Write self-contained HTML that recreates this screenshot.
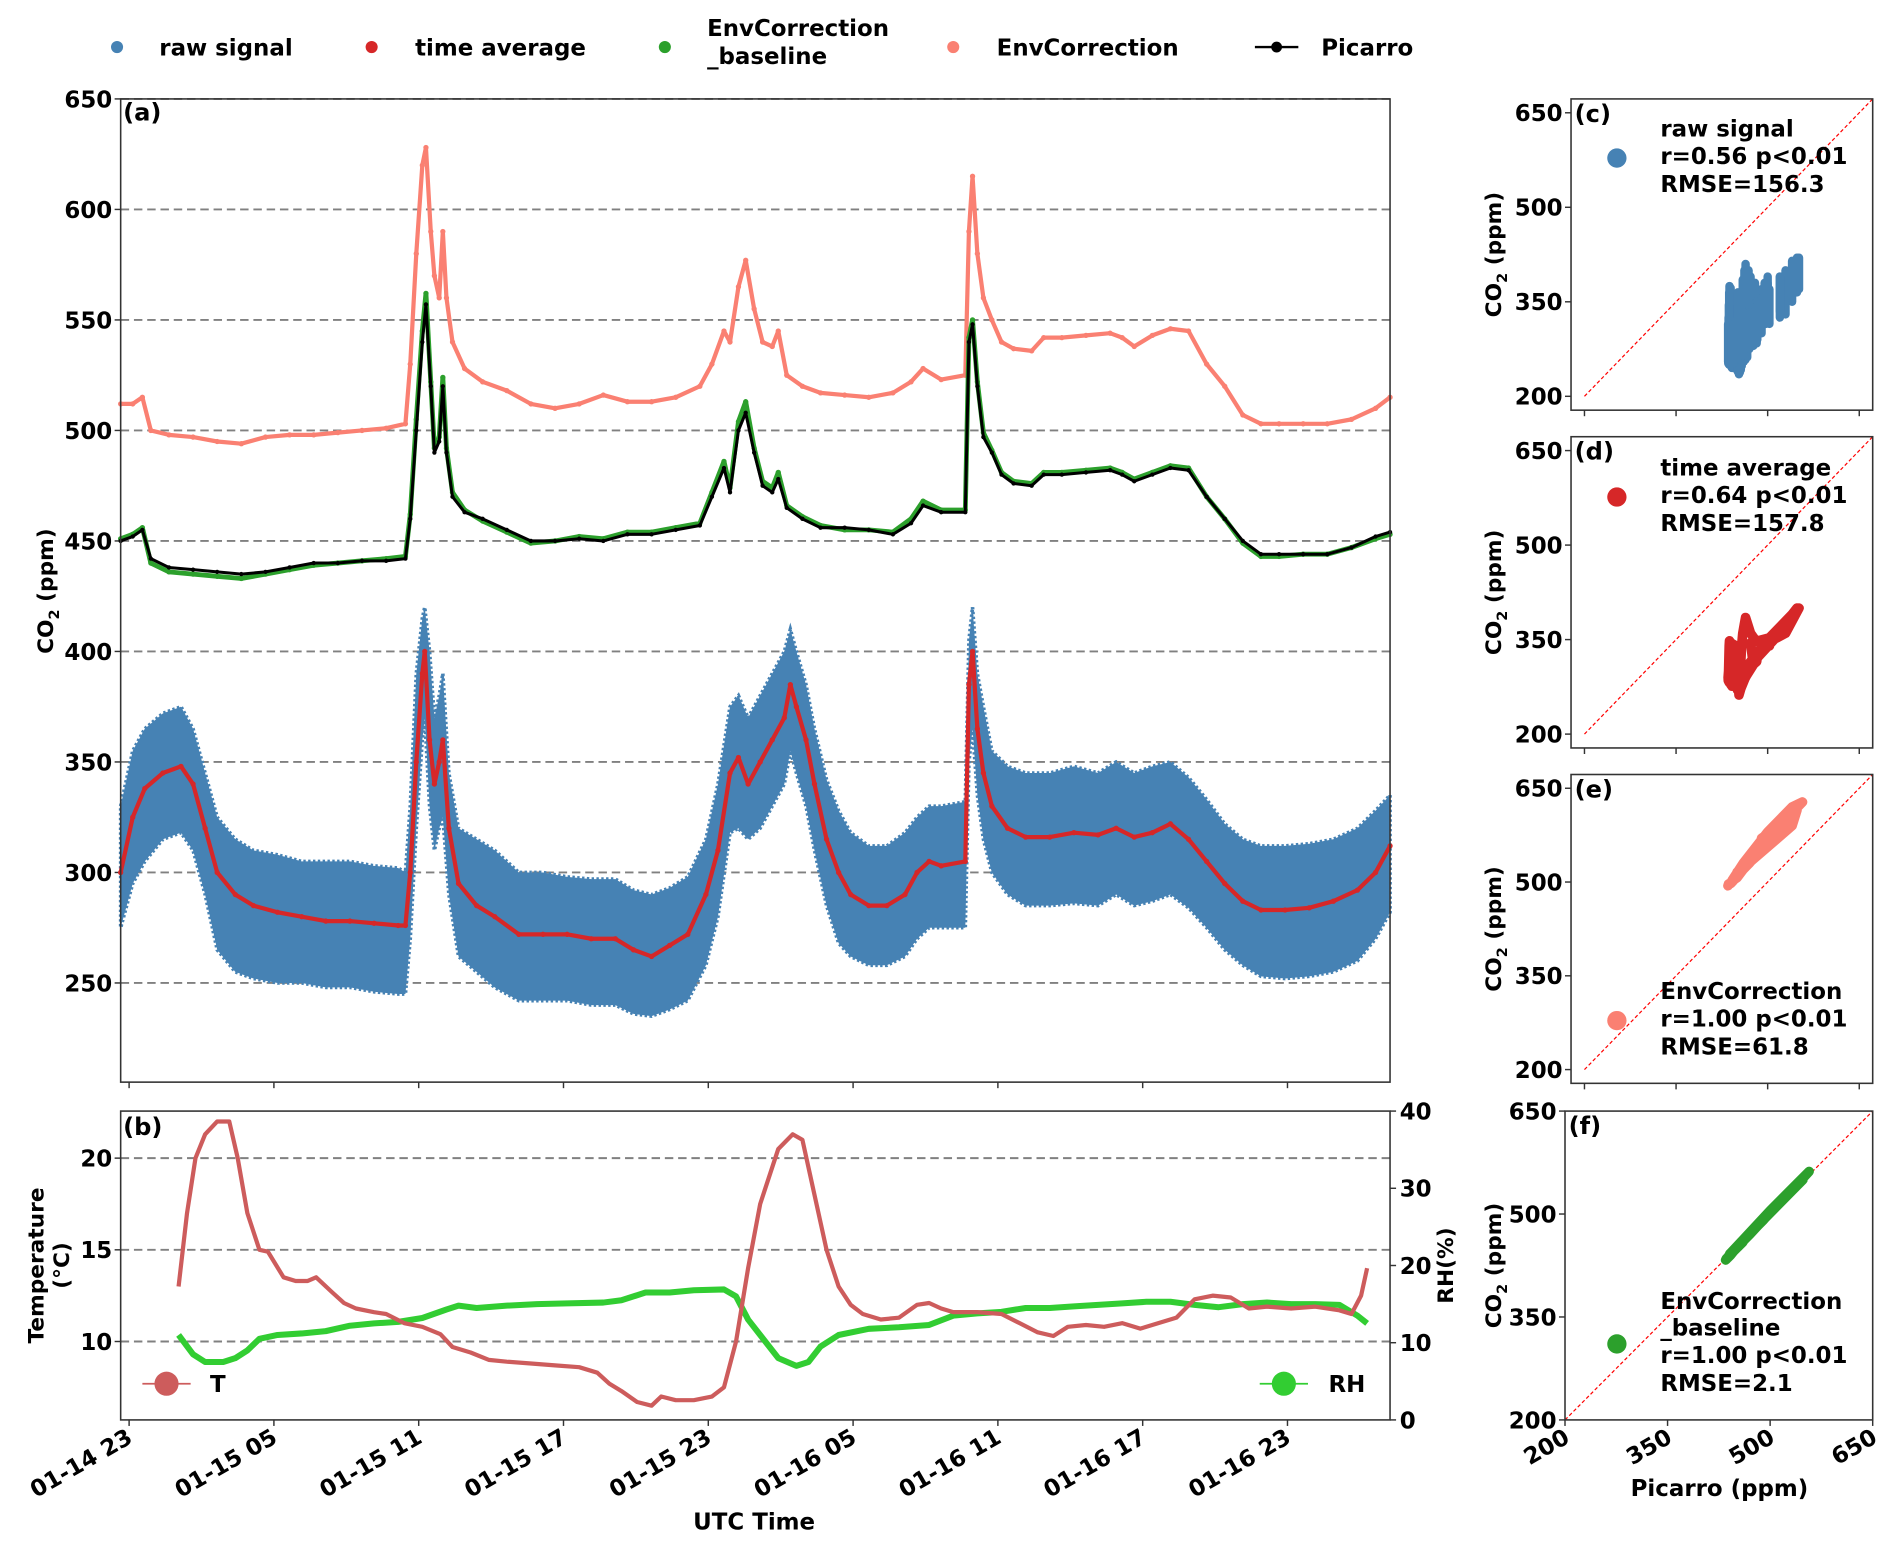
<!DOCTYPE html>
<html><head><meta charset="utf-8"><title>CO2 sensor comparison</title>
<style>
html,body{margin:0;padding:0;background:#fff;}
svg{display:block;font-family:"DejaVu Sans","Liberation Sans",sans-serif;font-weight:bold;}
</style></head>
<body>
<svg id="fig" xmlns="http://www.w3.org/2000/svg" width="1892" height="1549" viewBox="0 0 1568 1284" preserveAspectRatio="none">
<g id="legend" font-size="19">
  <g><circle cx="97" cy="39" r="5" fill="#4682b4"/><text x="132" y="46">raw signal</text></g>
  <g><circle cx="308" cy="39" r="5" fill="#d62728"/><text x="344" y="46">time average</text></g>
  <g><circle cx="551" cy="39" r="5" fill="#2ca02c"/><text x="586" y="30">EnvCorrection</text><text x="586" y="53">_baseline</text></g>
  <g><circle cx="790" cy="39" r="5" fill="#fa8072"/><text x="826" y="46">EnvCorrection</text></g>
  <g><line x1="1040" y1="39" x2="1076" y2="39" stroke="#000" stroke-width="2"/><circle cx="1058" cy="39" r="4.5" fill="#000"/><text x="1095" y="46">Picarro</text></g>
</g>
<g id="pa"></g>
<g id="pb"></g>
<g id="ps"></g>
</svg>
<script>
// ---------- time series data (hours since 01-14 23:00) ----------
const timesA = [-0.35,0.15,0.55,0.9,1.65,2.65,3.65,4.65,5.65,6.65,7.65,8.65,9.65,10.65,11.45,11.65,11.9,12.15,12.3,12.5,12.65,12.85,13,13.15,13.4,13.9,14.65,15.65,16.65,17.65,18.65,19.65,20.65,21.65,22.65,23.65,24.15,24.65,24.9,25.25,25.55,25.9,26.25,26.65,26.9,27.25,27.9,28.65,29.65,30.65,31.65,32.4,32.9,33.65,34.65,34.8,34.95,35.15,35.4,35.75,36.15,36.65,37.4,37.9,38.65,39.65,40.65,41.15,41.65,42.4,43.15,43.9,44.65,45.4,46.15,46.9,47.65,48.65,49.65,50.65,51.65,52.25];
const picarro = [450,452,455,442,438,437,436,435,436,438,440,440,441,441,442,460,500,540,557,520,490,495,520,490,470,463,460,455,450,450,451,450,453,453,455,457,470,483,472,500,508,490,475,472,478,465,460,456,456,455,453,458,466,463,463,540,548,520,497,490,480,476,475,480,480,481,482,480,477,480,483,482,470,460,450,444,444,444,444,447,452,454];
const envBaseline = [451,453,456,440,436,435,434,433,435,437,439,440,441,442,443,462,505,545,562,522,492,497,524,492,472,464,459,454,449,450,452,451,454,454,456,458,472,486,474,504,513,492,477,474,481,466,461,457,455,455,454,460,468,464,464,542,550,522,499,491,481,477,476,481,481,482,483,481,478,481,484,483,470,460,449,443,443,444,444,447,451,453];
const envCorr = [512,512,515,500,498,497,495,494,497,498,498,499,500,501,503,530,580,620,628,590,570,560,590,560,540,528,522,518,512,510,512,516,513,513,515,520,530,545,540,565,577,555,540,538,545,525,520,517,516,515,517,522,528,523,525,590,615,580,560,550,540,537,536,542,542,543,544,542,538,543,546,545,530,520,507,503,503,503,503,505,510,515];
const timesB = [-0.35,0.15,0.65,1.4,2.15,2.65,3.15,3.65,4.4,5.15,6.15,7.15,8.15,9.15,10.15,11.15,11.45,11.65,11.9,12.15,12.25,12.45,12.65,12.85,13,13.25,13.65,14.4,15.15,16.15,17.15,18.15,19.15,20.15,20.9,21.65,22.4,23.15,23.9,24.4,24.9,25.25,25.65,26.15,26.65,27.15,27.4,27.65,28.05,28.4,28.9,29.4,29.9,30.65,31.4,32.15,32.65,33.15,33.65,34.65,34.8,34.95,35.15,35.4,35.75,36.4,37.15,38.15,39.15,40.15,40.9,41.65,42.4,43.15,43.9,44.65,45.4,46.15,46.9,47.9,48.9,49.9,50.9,51.65,52.25];
const timeAvg = [300,325,338,345,348,340,320,300,290,285,282,280,278,278,277,276,276,300,350,390,400,360,340,350,360,320,295,285,280,272,272,272,270,270,265,262,267,272,290,310,345,352,340,350,360,370,385,375,360,340,315,300,290,285,285,290,300,305,303,305,385,400,365,345,330,320,316,316,318,317,320,316,318,322,315,305,295,287,283,283,284,287,292,300,312];
const rawUpper = [330,355,365,372,375,365,345,325,315,310,308,305,305,305,303,302,300,330,390,415,420,400,370,380,390,345,320,315,310,300,300,298,297,297,292,290,293,298,315,340,375,380,370,380,390,400,410,400,385,365,342,328,318,312,312,318,325,330,330,332,405,420,390,375,355,348,345,345,348,345,350,345,348,350,343,333,322,315,312,312,313,315,320,328,335];
const rawLower = [275,295,305,315,318,310,290,265,255,252,250,250,248,248,246,245,245,270,320,360,370,330,310,320,325,290,262,255,248,242,242,242,240,240,236,235,238,242,258,280,318,320,315,320,330,340,355,345,330,310,285,268,262,258,258,262,270,275,275,275,350,365,335,315,300,290,285,285,286,285,290,285,287,290,284,275,265,258,253,252,253,255,260,270,282];
const timesT = [2.05,2.4,2.75,3.15,3.65,4.15,4.5,4.9,5.4,5.75,6.4,6.9,7.4,7.75,8.4,8.9,9.4,10.15,10.65,11.4,12.15,12.9,13.4,14.15,14.9,15.65,16.65,17.65,18.65,19.4,19.9,20.4,21.05,21.65,22.05,22.65,23.4,24.15,24.65,25.15,25.65,26.15,26.9,27.5,27.9,28.4,28.9,29.4,29.9,30.4,31.15,31.9,32.65,33.15,33.65,34.15,35.15,36.15,36.9,37.65,38.3,38.9,39.65,40.4,41.15,41.9,42.65,43.4,44.15,44.9,45.65,46.4,47.15,48.15,49.15,50.15,50.65,51.05,51.3];
const tempC = [13,17,20,21.3,22,22,20,17,15,14.9,13.5,13.3,13.3,13.5,12.7,12.1,11.8,11.6,11.5,11.0,10.8,10.4,9.7,9.4,9.0,8.9,8.8,8.7,8.6,8.3,7.7,7.3,6.7,6.5,7.0,6.8,6.8,7.0,7.5,10,14,17.5,20.5,21.3,21,18,15,13,12,11.5,11.2,11.3,12,12.1,11.8,11.6,11.6,11.5,11.0,10.5,10.3,10.8,10.9,10.8,11.0,10.7,11.0,11.3,12.3,12.5,12.4,11.8,11.9,11.8,11.9,11.7,11.5,12.5,14];
const timesRH = [2.05,2.65,3.15,3.9,4.4,4.9,5.4,6.15,7.15,8.15,9.15,10.15,11.15,12.15,13.15,13.65,14.4,15.65,16.9,18.15,19.65,20.4,21.4,22.4,23.4,24.65,25.15,25.65,26.15,26.9,27.65,28.15,28.65,29.4,30.65,31.9,33.15,34.15,35.15,36.15,37.15,38.15,39.15,40.15,41.15,42.15,43.15,44.15,45.15,46.15,47.15,48.15,49.15,50.15,50.9,51.3];
const rhPct = [11,8.5,7.5,7.5,8,9,10.5,11,11.2,11.5,12.2,12.5,12.7,13.2,14.3,14.8,14.5,14.8,15.0,15.1,15.2,15.5,16.5,16.5,16.8,16.9,16,13,11,8,7,7.5,9.5,11,11.8,12,12.3,13.5,13.8,14.0,14.5,14.5,14.7,14.9,15.1,15.3,15.3,14.9,14.6,15.0,15.2,15.0,15.0,14.9,13.5,12.5];
// ---------- tick labels ----------
const xTickHours = [0,6,12,18,24,30,36,42,48];
const xTickLabels = ["01-14 23","01-15 05","01-15 11","01-15 17","01-15 23","01-16 05","01-16 11","01-16 17","01-16 23"];
const co2Ticks = [250,300,350,400,450,500,550,600,650];
const tempTicks = [10,15,20];
const rhTicks = [0,10,20,30,40];
const scatterTicks = [200,350,500,650];
const statLabels = [["raw signal","r=0.56 p<0.01","RMSE=156.3"],["time average","r=0.64 p<0.01","RMSE=157.8"],["EnvCorrection","r=1.00 p<0.01","RMSE=61.8"],["EnvCorrection","_baseline","r=1.00 p<0.01","RMSE=2.1"]];

const NS="http://www.w3.org/2000/svg";
function mk(parent,tag,attrs,text){const e=document.createElementNS(NS,tag);for(const k in attrs)e.setAttribute(k,attrs[k]);if(text!==undefined)e.textContent=text;parent.appendChild(e);return e;}

const X0=100,X1=1152;
const xT = h => 107 + h*20;
const yA = v => 82 + (650-v)*91.6/50;
const yTemp = t => 960 + (20-t)*15.2;
const yRH = r => 1177 - r*6.4;
function interp(ts,vs,t){ if(t<=ts[0])return vs[0]; for(let i=1;i<ts.length;i++){ if(t<=ts[i]){const f=(t-ts[i-1])/(ts[i]-ts[i-1]);return vs[i-1]+f*(vs[i]-vs[i-1]);}} return vs[vs.length-1]; }

// ---------- panel a ----------
const pa=document.getElementById('pa');
co2Ticks.forEach(v=>{
  const g=mk(pa,'line',{x1:X0,x2:X1,y1:yA(v),y2:yA(v),stroke:'#808080','stroke-width':1.6,'stroke-dasharray':'7,4'});
  
  
  const t=mk(pa,'text',{x:93,y:yA(v)+7,'text-anchor':'end','font-size':19},String(v));
  
  
  mk(pa,'line',{x1:95,x2:X0,y1:yA(v),y2:yA(v),stroke:'#333','stroke-width':1.2});
});
let pts=timesB.map((t,i)=>xT(t)+','+yA(rawUpper[i])).join(' ')+' '+timesB.slice().reverse().map((t,i)=>xT(t)+','+yA(rawLower[timesB.length-1-i])).join(' ');
let band=mk(pa,'polygon',{points:pts,fill:'#4682b4',stroke:'#4682b4','stroke-width':3,'stroke-dasharray':'2,2'});


function series(parent,ts,vs,yf,color,w,r,name){
  const g=mk(parent,'g',{});
  
  
  mk(g,'polyline',{points:ts.map((t,i)=>xT(t)+','+yf(vs[i])).join(' '),fill:'none',stroke:color,'stroke-width':w,'stroke-linejoin':'round'});
  if(r>0) ts.forEach((t,i)=>mk(g,'circle',{cx:xT(t),cy:yf(vs[i]),r:r,fill:color}));
  return g;
}
series(pa,timesB,timeAvg,yA,'#d62728',3.5,2.2,'time-average-series');
series(pa,timesA,envCorr,yA,'#fa8072',3.5,2.2,'envcorrection-series');
series(pa,timesA,envBaseline,yA,'#2ca02c',4,2.2,'envcorrection-baseline-series');
series(pa,timesA,picarro,yA,'#000',2.5,1.8,'picarro-series');
mk(pa,'rect',{x:X0,y:82,width:X1-X0,height:815,fill:'none',stroke:'#333','stroke-width':1.3});
xTickHours.forEach(h=>mk(pa,'line',{x1:xT(h),x2:xT(h),y1:897,y2:902,stroke:'#333','stroke-width':1.2}));
mk(pa,'text',{x:102,y:100,'font-size':20},'(a)');
let yl=mk(pa,'text',{transform:'translate(44,490) rotate(-90)','text-anchor':'middle','font-size':18});


yl.innerHTML='CO<tspan font-size="12" dy="5">2</tspan><tspan dy="-5"> (ppm)</tspan>';

// ---------- panel b ----------
const pb=document.getElementById('pb');
tempTicks.forEach(v=>{
  mk(pb,'line',{x1:X0,x2:X1,y1:yTemp(v),y2:yTemp(v),stroke:'#808080','stroke-width':1.6,'stroke-dasharray':'7,4'});
  mk(pb,'line',{x1:95,x2:X0,y1:yTemp(v),y2:yTemp(v),stroke:'#333','stroke-width':1.2});
  const t=mk(pb,'text',{x:93,y:yTemp(v)+7,'text-anchor':'end','font-size':19},String(v));
  
  
});
rhTicks.forEach(v=>{
  mk(pb,'line',{x1:X1,x2:X1+5,y1:yRH(v),y2:yRH(v),stroke:'#333','stroke-width':1.2});
  const t=mk(pb,'text',{x:1160,y:yRH(v)+7,'font-size':19},String(v));
  
  
});
series(pb,timesRH,rhPct,yRH,'#32cd32',5,0,'rh-series');
series(pb,timesT,tempC,yTemp,'#cd5c5c',3.5,0,'temperature-series');
mk(pb,'rect',{x:X0,y:921,width:X1-X0,height:256,fill:'none',stroke:'#333','stroke-width':1.3});
mk(pb,'text',{x:102,y:941,'font-size':20},'(b)');
xTickHours.forEach((h,i)=>{
  mk(pb,'line',{x1:xT(h),x2:xT(h),y1:1177,y2:1182,stroke:'#333','stroke-width':1.2});
  const t=mk(pb,'text',{transform:`translate(${xT(h)+4},1195) rotate(-30)`,'text-anchor':'end','font-size':19},xTickLabels[i]);
  
  
});
let xt=mk(pb,'text',{x:625,y:1268,'text-anchor':'middle','font-size':19},'UTC Time');


let tt=mk(pb,'text',{transform:'translate(36,1049) rotate(-90)','text-anchor':'middle','font-size':18},'Temperature');


mk(pb,'text',{transform:'translate(57,1049) rotate(-90)','text-anchor':'middle','font-size':18},'(°C)');
let rt=mk(pb,'text',{transform:'translate(1204,1049) rotate(-90)','text-anchor':'middle','font-size':18},'RH(%)');


let lt=mk(pb,'g',{});


mk(lt,'line',{x1:118,x2:158,y1:1147,y2:1147,stroke:'#cd5c5c','stroke-width':1.5});
mk(lt,'circle',{cx:138,cy:1147,r:10,fill:'#cd5c5c'});
mk(lt,'text',{x:174,y:1154,'font-size':19},'T');
let lr=mk(pb,'g',{});


mk(lr,'line',{x1:1044,x2:1084,y1:1147,y2:1147,stroke:'#32cd32','stroke-width':1.5});
mk(lr,'circle',{cx:1064,cy:1147,r:10,fill:'#32cd32'});
mk(lr,'text',{x:1101,y:1154,'font-size':19},'RH');

// ---------- scatter panels ----------
const ps=document.getElementById('ps');
const panels=[
  {top:82,h:258,x0:1302,x1:1552,lo:178,hi:672,label:'(c)',name:'scatter-panel-c'},
  {top:362,h:258,x0:1302,x1:1552,lo:178,hi:672,label:'(d)',name:'scatter-panel-d'},
  {top:642,h:256,x0:1302,x1:1552,lo:178,hi:672,label:'(e)',name:'scatter-panel-e'},
  {top:921,h:256,x0:1297,x1:1552,lo:200,hi:650,label:'(f)',name:'scatter-panel-f'}];
const statY=[[107,130,153],[388,411,434],[822,845,868],[1079,1101,1124,1147]];
const legY=[131,412,846,1114];
const legC=['#4682b4','#d62728','#fa8072','#2ca02c'];
panels.forEach((p,k)=>{
  const g=mk(ps,'g',{});
  
  
  const sx=v=>p.x0+(v-p.lo)/(p.hi-p.lo)*(p.x1-p.x0);
  const sy=v=>p.top+p.h-(v-p.lo)/(p.hi-p.lo)*p.h;
  mk(g,'line',{x1:sx(200),y1:sy(200),x2:sx(p.hi),y2:sy(p.hi),stroke:'#ff0000','stroke-width':1,'stroke-dasharray':'3,2'});
  if(k===0){
    timesB.forEach((t,i)=>{const pc=interp(timesA,picarro,t);mk(g,'line',{x1:sx(pc),x2:sx(pc),y1:sy(rawUpper[i]),y2:sy(rawLower[i]),stroke:'#4682b4','stroke-width':7,'stroke-linecap':'round'});});
  } else if(k===1){
    const pp=timesB.map((t,i)=>sx(interp(timesA,picarro,t))+','+sy(timeAvg[i])).join(' ');
    mk(g,'polyline',{points:pp,fill:'none',stroke:'#d62728','stroke-width':8,'stroke-linejoin':'round','stroke-linecap':'round'});
  } else {
    const vs=k===2?envCorr:envBaseline;
    const pp=timesA.map((t,i)=>sx(picarro[i])+','+sy(vs[i])).join(' ');
    mk(g,'polyline',{points:pp,fill:'none',stroke:legC[k],'stroke-width':8,'stroke-linejoin':'round','stroke-linecap':'round'});
  }
  mk(g,'rect',{x:p.x0,y:p.top,width:p.x1-p.x0,height:p.h,fill:'none',stroke:'#333','stroke-width':1.3});
  scatterTicks.forEach(v=>{
    mk(g,'line',{x1:p.x0-5,x2:p.x0,y1:sy(v),y2:sy(v),stroke:'#333','stroke-width':1.2});
    const t=mk(g,'text',{x:p.x0-7,y:sy(v)+7,'text-anchor':'end','font-size':19},String(v));
    
    
    mk(g,'line',{x1:sx(v),x2:sx(v),y1:p.top+p.h,y2:p.top+p.h+5,stroke:'#333','stroke-width':1.2});
    if(k===3){
      const xl=mk(g,'text',{transform:`translate(${sx(v)+5},${p.top+p.h+18}) rotate(-30)`,'text-anchor':'end','font-size':19},String(v));
      
      
    }
  });
  mk(g,'text',{x:p.x0+3,y:p.top+19,'font-size':20},p.label);
  const yt=mk(g,'text',{transform:`translate(1244,${p.top+p.h/2}) rotate(-90)`,'text-anchor':'middle','font-size':18});
  
  
  yt.innerHTML='CO<tspan font-size="12" dy="5">2</tspan><tspan dy="-5"> (ppm)</tspan>';
  const lc=mk(g,'circle',{cx:1340,cy:legY[k],r:8,fill:legC[k]});
  
  
  statLabels[k].forEach((s,j)=>{
    const st=mk(g,'text',{x:1376,y:statY[k][j]+6,'font-size':19},s);
    
    
  });
});
let px=mk(ps,'text',{x:1425,y:1240,'text-anchor':'middle','font-size':19},'Picarro (ppm)');


</script>
</body></html>
